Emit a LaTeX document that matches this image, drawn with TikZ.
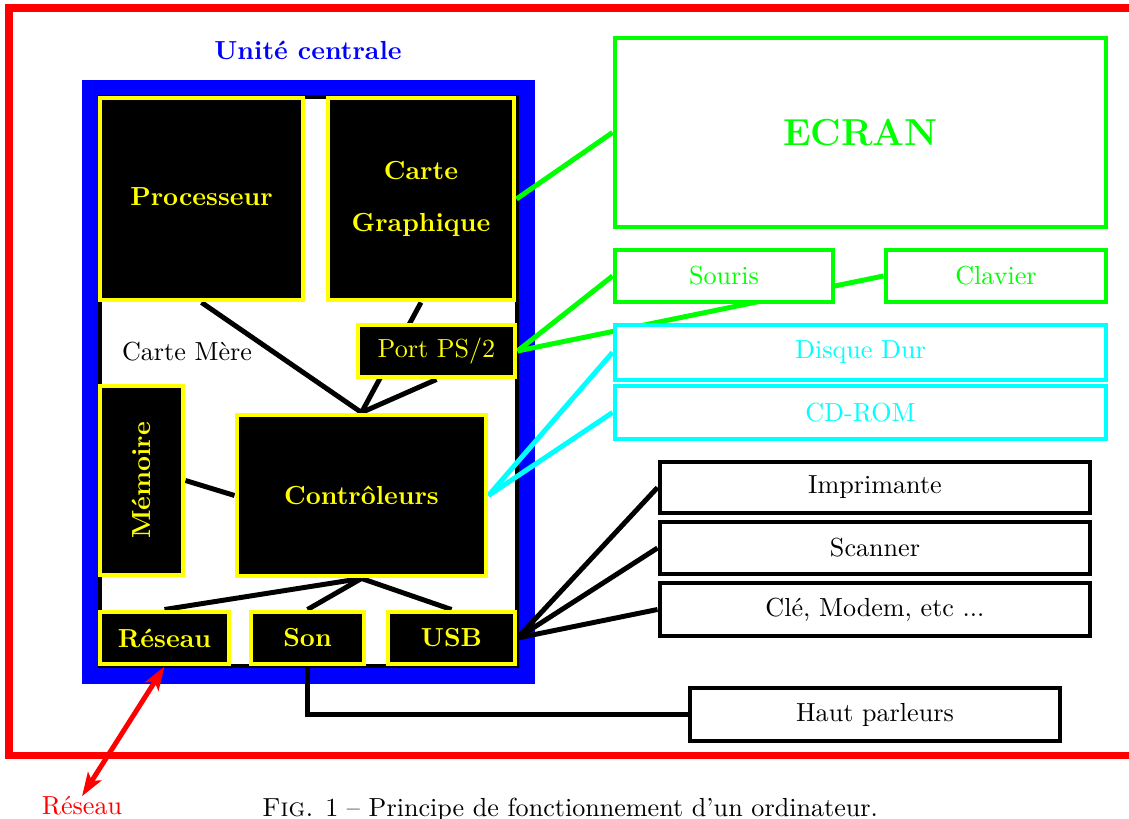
\documentclass[tikz,border=0pt]{standalone}
\usepackage{graphicx}
\usetikzlibrary{arrows.meta}
\definecolor{ye}{RGB}{255,255,0}
\definecolor{gr}{RGB}{0,255,0}
\definecolor{cy}{RGB}{0,255,255}
\definecolor{bl}{RGB}{0,0,255}
\definecolor{rd}{RGB}{255,0,0}
\pgfdeclarelayer{bg}
\pgfdeclarelayer{conn}
\pgfsetlayers{bg,conn,main}
\newcommand\bx[7]{\node[#2, minimum width={(#5-#3)*0.383pt}, minimum height={(#6-#4)*0.383pt}] (#1) at ({(#3+#5)/2},{(#4+#6)/2}) {#7};}
\tikzset{
  ybox/.style={draw=ye, fill=black, line width=1.9pt, text=ye, font=\bfseries, inner sep=0pt},
  gbox/.style={draw=gr, fill=white, line width=1.9pt, text=gr, inner sep=0pt},
  cbox/.style={draw=cy, fill=white, line width=1.9pt, text=cy, inner sep=0pt},
  kbox/.style={draw=black, fill=white, line width=1.9pt, text=black, inner sep=0pt},
  wire/.style={line width=1.9pt, draw=black},
  gwire/.style={line width=1.9pt, draw=gr},
  cwire/.style={line width=1.9pt, draw=cy},
}
\begin{document}
\begin{tikzpicture}[x=0.383pt,y=-0.383pt]
\useasboundingbox (0,0) rectangle (1129,819);
% frames
\begin{pgfonlayer}{bg}
\draw[rd, line width=3.06pt] (9,8) rectangle (1140,755.5);
\draw[bl, line width=6.3pt] (90.5,88.5) rectangle (526.5,675.5);
\draw[black, line width=1.9pt] (100,97) rectangle (517,666);
\end{pgfonlayer}
\node[bl, font=\bfseries] (uc) at (308,50) {Unité centrale};
\node (cm) at (187,352) {Carte Mère};
% boxes in central unit
\bx{proc}{ybox}{100}{98}{303}{300}{\raisebox{2pt}{Processeur}}
\bx{cg}{ybox, align=center, font=\bfseries\fontsize{10}{19}\selectfont}{328}{98}{514}{300}{\raisebox{1pt}{Carte}\\Graphique}
\bx{ps2}{ybox, font=\normalfont}{358}{325}{515}{377}{Port PS/2}
\bx{mem}{ybox}{100}{386}{183}{575}{\rotatebox{90}{Mémoire}}
\bx{ctrl}{ybox}{237}{415}{486}{576}{Contrôleurs}
\bx{res}{ybox}{100}{612}{229}{664}{Réseau}
\bx{son}{ybox}{251}{612}{364}{664}{Son}
\bx{usb}{ybox}{388}{612}{515}{664}{USB}
% peripherals
\bx{ecran}{gbox, font=\Large\bfseries}{615}{38}{1106}{227}{ECRAN}
\bx{souris}{gbox}{615}{250}{833}{302}{Souris}
\bx{clavier}{gbox}{886}{250}{1106}{302}{Clavier}
\bx{dd}{cbox}{615}{325}{1106}{380}{Disque Dur}
\bx{cd}{cbox}{615}{386}{1106}{439}{CD-ROM}
\bx{imp}{kbox}{660}{462}{1090}{513}{Imprimante}
\bx{scan}{kbox}{660}{522}{1090}{574}{Scanner}
\bx{cle}{kbox}{660}{583}{1090}{636}{Clé, Modem, etc ...}
\bx{hp}{kbox}{690}{688}{1060}{741}{Haut parleurs}
\node[rd, inner sep=0pt, anchor=base] (lab) at (82,815) {Réseau};
\node[anchor=base] (cap) at (570,817) {\textsc{Fig.} 1 -- Principe de fonctionnement d'un ordinateur.};
% connectors
\begin{pgfonlayer}{conn}
\draw[wire] (proc.south) -- (ctrl.north);
\draw[wire] (cg.south) -- (ctrl.north);
\draw[wire] (ps2.south) -- (ctrl.north);
\draw[wire] (mem.east) -- (ctrl.west);
\draw[wire] (ctrl.south) -- (res.north);
\draw[wire] (ctrl.south) -- (son.north);
\draw[wire] (ctrl.south) -- (usb.north);
\draw[wire] (usb.east) -- (imp.west);
\draw[wire] (usb.east) -- (scan.west);
\draw[wire] (usb.east) -- (cle.west);
\draw[wire] (son.south) |- (hp.west);
\draw[gwire] (cg.east) -- (ecran.west);
\draw[gwire] (ps2.east) -- (souris.west);
\draw[gwire] (ps2.east) -- (clavier.west);
\draw[cwire] (ctrl.east) -- (dd.west);
\draw[cwire] (ctrl.east) -- (cd.west);
\draw[rd, line width=1.9pt, {Stealth[length=9pt,width=6pt,inset=2pt]}-{Stealth[length=9pt,width=6pt,inset=2pt]}] (res.south) -- (lab.north);
\end{pgfonlayer}
\end{tikzpicture}
\end{document}
